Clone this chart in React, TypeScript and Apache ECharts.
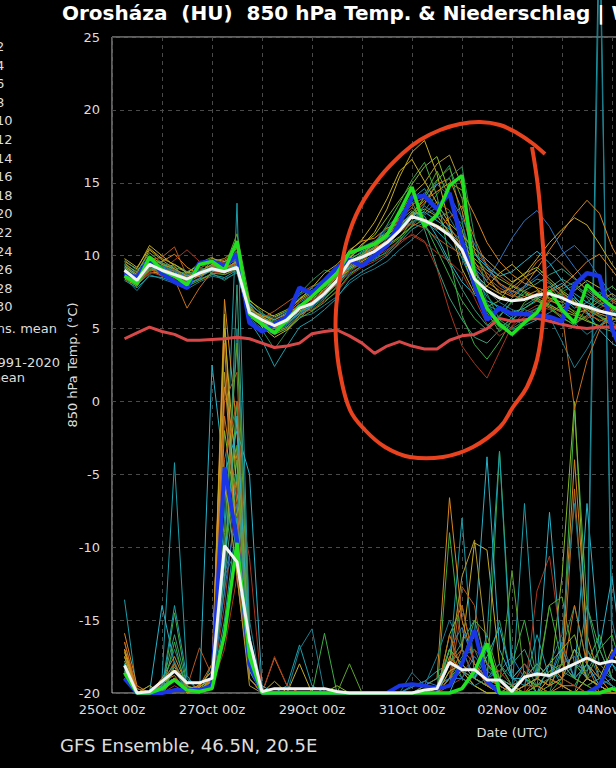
import React, { useEffect, useRef } from 'react';
import * as echarts from 'echarts';

// forecast hours after 25Oct 00z (6-hourly)
const hours = [6, 12, 18, 24, 30, 36, 42, 48, 54, 60, 66, 72, 78, 84, 90, 96, 102, 108, 114, 120, 126, 132, 138, 144, 150, 156, 162, 168, 174, 180, 186, 192, 198, 204, 210, 216, 222, 228, 234, 240, 246];
const dateLabels = ['25Oct 00z', '27Oct 00z', '29Oct 00z', '31Oct 00z', '02Nov 00z', '04Nov 00z', '06Nov 00z', '08Nov 00z', '10Nov 00z'];
const legendMembers = ['2', '4', '6', '8', '10', '12', '14', '16', '18', '20', '22', '24', '26', '28', '30'];

const climate = [4.3, 4.7, 5.1, 4.8, 4.6, 4.2, 4.2, 4.25, 4.3, 4.4, 4.3, 4.0, 3.7, 3.8, 4.0, 4.65, 4.8, 4.9, 4.5, 4.0, 3.3, 3.8, 4.1, 3.8, 3.6, 3.6, 4.2, 4.5, 4.6, 5.0, 5.7, 5.5, 5.6, 5.7, 5.5, 5.3, 5.1, 5.0, 5.1, 5.1, 5.0];
const ensMean = [9.0, 8.3, 9.4, 9.0, 8.7, 8.4, 8.8, 9.1, 8.9, 9.2, 6.1, 5.6, 5.2, 5.6, 6.4, 6.7, 7.4, 8.3, 9.6, 9.9, 10.3, 10.9, 11.7, 12.7, 12.4, 12.0, 11.4, 10.4, 8.4, 7.6, 7.1, 6.9, 7.0, 7.3, 7.4, 7.1, 6.7, 6.5, 6.2, 6.0, 5.8];
const opRun = [8.8, 8.5, 9.8, 8.8, 8.2, 7.8, 9.5, 9.6, 9.3, 10.1, 5.4, 4.8, 5.3, 5.8, 7.8, 7.4, 8.3, 9.2, 9.7, 9.3, 10.0, 10.7, 12.2, 14.0, 14.1, 13.2, 14.3, 11.0, 8.0, 5.6, 6.4, 6.0, 6.0, 5.9, 5.8, 5.5, 8.0, 8.8, 8.6, 5.0, 3.0];
const controlRun = [8.6, 8.1, 9.9, 9.0, 8.6, 8.0, 9.4, 9.6, 9.0, 11.0, 6.0, 5.3, 4.7, 5.6, 6.5, 7.2, 8.0, 8.8, 10.2, 10.5, 10.8, 11.4, 13.0, 14.7, 12.0, 12.8, 14.8, 15.5, 8.5, 6.4, 5.3, 4.6, 5.4, 6.1, 7.6, 6.3, 5.4, 8.0, 7.2, 6.5, 6.0];

const meanPrecip = [1.9, 0, 0.1, 0.8, 1.5, 0.7, 0.7, 1.0, 10.1, 9.0, 3.6, 0.1, 0.3, 0.3, 0.3, 0.3, 0.3, 0.1, 0, 0, 0, 0, 0, 0, 0.2, 0.3, 2.1, 1.6, 1.6, 0.9, 0.9, 0.1, 1.1, 1.3, 1.2, 1.6, 2.0, 2.4, 2.0, 2.2, 2.0];
const opPrecip = [1.0, 0, 0, 0, 0.2, 0.2, 0.2, 0.5, 15.5, 10.5, 2.0, 0, 0, 0, 0, 0, 0, 0, 0, 0, 0, 0, 0.5, 0.6, 0.5, 0.3, 0.5, 2.0, 4.3, 0.8, 0, 0, 0, 0, 0, 0, 0, 0, 0.5, 2.5, 4.0];
const controlPrecip = [1.4, 0, 0, 0.3, 0.9, 0.2, 0.1, 0.3, 4.0, 10.3, 2.5, 0, 0, 0, 0, 0, 0, 0, 0, 0, 0, 0, 0, 0, 0, 0, 0, 0.3, 1.5, 3.4, 0, 0, 0, 0, 0, 0, 0, 0, 0, 0.3, 0];

// member 850 hPa temperatures
const tM01 = [9.2, 8.6, 9.6, 9.3, 8.9, 8.2, 8.9, 9.4, 9.1, 9.6, 6.5, 5.4, 4.8, 5.2, 6.1, 6.9, 7.6, 8.9, 10.1, 10.4, 10.9, 11.8, 12.6, 13.9, 14.6, 13.2, 11.9, 9.8, 7.9, 6.6, 6.2, 7.1, 7.8, 8.4, 8.1, 7.2, 6.4, 6.8, 7.5, 6.9, 6.2];
const tM02 = [8.7, 8.0, 9.1, 8.8, 8.5, 8.7, 9.2, 8.8, 8.3, 8.9, 5.6, 4.9, 3.6, 4.8, 5.9, 6.4, 7.1, 7.8, 9.0, 9.5, 9.8, 10.2, 11.0, 12.1, 13.5, 15.1, 16.2, 12.4, 8.1, 5.9, 5.1, 5.6, 6.3, 6.0, 6.8, 7.7, 8.2, 7.1, 5.9, 5.4, 5.0];
const tM03 = [9.4, 8.9, 10.2, 9.5, 9.0, 8.7, 9.1, 9.7, 9.4, 10.3, 6.8, 5.9, 5.5, 5.8, 6.6, 6.2, 7.0, 7.9, 9.4, 10.1, 10.6, 11.3, 12.4, 13.1, 12.2, 10.4, 8.6, 6.9, 5.7, 4.9, 5.8, 6.9, 7.4, 7.0, 6.5, 5.8, 5.2, 6.4, 7.3, 7.9, 7.1];
const tM04 = [8.9, 8.2, 9.0, 9.1, 9.4, 8.9, 8.6, 9.0, 8.8, 9.4, 6.2, 5.8, 5.9, 6.3, 7.0, 7.5, 8.1, 8.7, 9.9, 10.8, 11.4, 12.6, 13.8, 14.9, 16.1, 16.8, 14.3, 10.2, 7.6, 6.5, 6.9, 8.1, 8.8, 9.2, 8.4, 7.6, 7.0, 6.1, 5.5, 5.9, 6.4];
const tM05 = [9.6, 9.1, 10.7, 10.0, 9.3, 8.1, 8.4, 9.3, 9.6, 9.9, 6.4, 5.1, 4.4, 4.9, 5.7, 6.6, 7.8, 8.6, 9.8, 10.7, 11.6, 13.2, 15.4, 17.1, 17.9, 15.6, 12.1, 9.1, 7.4, 7.9, 8.8, 9.4, 8.6, 7.7, 7.1, 6.8, 7.6, 8.3, 7.8, 7.0, 6.5];
const tM06 = [8.4, 7.9, 9.3, 9.6, 10.1, 9.2, 8.7, 9.1, 9.3, 9.1, 5.9, 5.3, 5.0, 5.6, 6.3, 7.1, 8.0, 9.0, 10.4, 11.0, 11.2, 11.9, 12.2, 12.8, 13.6, 14.9, 15.3, 13.1, 9.6, 8.2, 7.6, 7.2, 7.9, 9.1, 10.4, 11.6, 12.8, 13.8, 12.9, 10.6, 9.1];
const tM07 = [9.1, 8.4, 9.7, 9.9, 10.6, 8.6, 8.3, 8.7, 9.0, 9.5, 6.0, 5.7, 6.2, 6.8, 7.4, 7.9, 8.2, 8.5, 9.2, 9.6, 10.4, 11.1, 11.7, 12.3, 12.9, 13.7, 13.1, 11.6, 10.2, 9.4, 8.6, 8.0, 7.6, 7.2, 6.9, 6.6, 6.2, 5.7, 6.1, 6.7, 7.2];
const tM08 = [8.8, 8.5, 9.2, 9.0, 9.7, 10.4, 9.6, 8.9, 8.7, 9.0, 5.8, 5.2, 4.9, 5.4, 6.0, 6.3, 6.9, 7.5, 8.6, 9.2, 9.6, 10.1, 10.8, 11.5, 11.0, 9.1, 6.2, 3.8, 2.6, 1.6, 3.4, 5.2, 6.1, 6.6, 6.3, 5.9, 5.5, 5.8, 6.4, 6.9, 7.3];
const tM09 = [8.6, 8.1, 8.9, 8.7, 8.3, 7.9, 8.5, 9.0, 9.2, 9.8, 6.3, 5.5, 5.1, 5.5, 6.8, 7.3, 7.7, 8.0, 8.8, 9.3, 10.0, 10.8, 11.9, 12.6, 13.4, 12.8, 11.5, 10.3, 9.1, 8.3, 9.7, 11.2, 12.4, 13.1, 12.0, 10.4, 9.2, 8.1, 7.3, 6.6, 5.9];
const tM10 = [9.3, 8.7, 9.5, 9.2, 8.8, 8.5, 8.9, 9.2, 9.5, 10.0, 6.7, 6.0, 5.6, 6.1, 7.1, 7.6, 8.3, 8.9, 9.7, 10.3, 10.7, 11.2, 12.0, 13.0, 12.7, 11.3, 9.6, 8.2, 7.3, 6.9, 6.5, 6.1, 6.4, 7.0, 7.6, 8.1, 7.4, 6.8, 6.3, 5.8, 5.3];
const tM11 = [8.5, 7.6, 8.7, 8.4, 8.1, 7.7, 8.2, 8.6, 8.4, 8.8, 5.7, 5.0, 4.6, 5.0, 5.8, 6.0, 6.6, 7.2, 8.1, 8.7, 9.1, 9.6, 10.4, 11.1, 11.9, 12.6, 13.0, 12.2, 9.4, 6.8, 5.4, 4.9, 5.3, 6.2, 6.7, 6.1, 5.4, 4.6, 5.2, 5.9, 6.3];
const tM12 = [9.0, 8.3, 9.8, 9.4, 8.9, 8.8, 9.5, 9.9, 9.2, 11.5, 7.0, 6.1, 5.3, 5.7, 6.5, 6.8, 7.2, 8.1, 9.5, 9.8, 10.2, 10.6, 11.2, 12.4, 14.1, 15.8, 14.0, 11.8, 8.7, 6.1, 4.8, 5.5, 6.8, 7.4, 7.9, 6.9, 6.1, 5.6, 5.1, 4.8, 5.4];
const tM13 = [9.5, 8.8, 10.4, 9.7, 9.1, 8.4, 8.8, 9.6, 9.8, 10.5, 6.6, 5.6, 4.7, 5.1, 5.9, 6.5, 7.5, 8.4, 9.9, 10.5, 11.0, 11.6, 12.8, 14.2, 15.0, 16.3, 16.9, 14.8, 10.3, 8.6, 7.4, 6.9, 7.2, 7.6, 7.0, 6.5, 6.0, 6.3, 6.9, 7.4, 6.8];
const tM14 = [8.9, 8.3, 9.1, 8.6, 8.4, 6.4, 7.8, 8.9, 9.0, 9.7, 6.1, 5.5, 5.2, 5.9, 6.9, 7.4, 7.9, 8.6, 9.6, 10.0, 10.5, 11.4, 12.5, 13.3, 12.5, 11.8, 12.6, 13.4, 11.2, 9.3, 8.1, 7.5, 8.4, 9.6, 10.2, 9.4, 8.5, 7.6, 6.9, 6.3, 5.8];
const tM15 = [9.7, 9.0, 9.9, 9.5, 9.2, 8.9, 9.3, 9.5, 9.1, 9.6, 6.4, 5.8, 5.4, 5.8, 6.2, 6.5, 7.3, 8.2, 9.3, 9.9, 10.6, 11.5, 12.9, 13.7, 11.8, 9.2, 7.1, 5.6, 4.4, 4.0, 4.9, 5.8, 6.6, 7.1, 7.8, 8.4, 7.9, 7.2, 6.7, 6.2, 5.7];
const tM16 = [8.3, 7.8, 8.6, 8.5, 8.2, 8.0, 8.4, 8.7, 8.5, 9.0, 5.5, 4.2, 2.4, 3.8, 5.1, 5.6, 6.3, 7.1, 8.3, 8.9, 9.4, 10.0, 10.9, 11.8, 12.3, 11.7, 10.8, 9.9, 8.6, 7.2, 6.3, 5.7, 5.2, 5.6, 6.1, 6.6, 7.1, 6.5, 5.8, 5.2, 4.7];
const tM17 = [9.1, 8.5, 9.3, 9.0, 8.7, 8.6, 9.0, 9.3, 9.0, 9.4, 6.2, 5.7, 5.4, 6.0, 7.4, 8.3, 9.0, 8.8, 9.1, 9.4, 9.7, 10.3, 11.1, 12.0, 13.1, 14.2, 15.4, 16.1, 11.3, 7.4, 5.6, 5.0, 5.5, 6.3, 6.9, 7.5, 8.0, 7.4, 6.8, 6.1, 5.6];
const tM18 = [8.8, 8.2, 9.0, 9.3, 8.6, 8.1, 8.7, 9.1, 9.3, 9.9, 6.0, 5.4, 5.0, 5.4, 6.0, 6.6, 7.5, 8.6, 9.8, 10.2, 10.8, 12.1, 13.6, 15.2, 16.4, 14.1, 9.8, 5.9, 3.9, 2.9, 4.1, 5.6, 6.4, 6.9, 6.4, 5.7, 5.3, 5.9, 6.6, 7.1, 6.7];
const tM19 = [9.2, 8.6, 9.4, 9.1, 8.8, 8.5, 8.6, 9.0, 8.9, 9.3, 6.1, 5.6, 5.1, 5.5, 6.2, 6.7, 7.4, 8.0, 9.1, 9.6, 10.1, 10.7, 11.3, 12.0, 12.5, 12.1, 11.6, 10.7, 9.8, 9.0, 8.4, 7.9, 7.5, 7.1, 6.6, 6.2, 5.9, 5.5, 5.2, 5.6, 6.0];
const tM20 = [9.8, 9.2, 10.5, 9.8, 9.4, 8.8, 9.4, 9.8, 9.6, 10.1, 6.9, 6.3, 5.8, 6.2, 7.0, 7.8, 8.8, 9.4, 10.3, 11.1, 12.3, 13.9, 15.8, 16.6, 15.1, 13.6, 12.2, 11.4, 10.5, 9.7, 8.9, 8.2, 8.7, 9.8, 10.9, 11.8, 12.6, 12.1, 10.8, 9.4, 8.3];
const tM21 = [8.6, 8.0, 8.8, 8.9, 9.0, 8.3, 8.6, 9.2, 9.4, 9.2, 6.3, 5.9, 5.6, 6.0, 6.6, 7.0, 7.7, 8.5, 9.6, 10.1, 10.5, 11.0, 11.8, 12.9, 13.8, 14.4, 15.0, 14.5, 12.8, 10.9, 9.6, 8.7, 8.1, 7.8, 7.5, 7.9, 8.7, 9.6, 10.1, 9.0, 7.9];
const tM22 = [9.0, 8.4, 9.1, 8.8, 8.5, 8.2, 8.9, 9.4, 9.7, 10.2, 6.5, 5.7, 5.0, 5.3, 6.1, 6.9, 7.6, 8.3, 9.2, 9.7, 10.3, 10.9, 11.6, 12.2, 11.9, 11.2, 10.6, 10.1, 9.3, 8.5, 7.8, 7.3, 7.0, 7.4, 7.9, 7.3, 6.6, 6.0, 5.6, 5.3, 5.0];
const tM23 = [8.7, 8.1, 8.9, 8.6, 8.4, 8.5, 9.1, 9.6, 9.5, 9.7, 6.1, 5.4, 5.1, 5.5, 6.4, 6.9, 7.4, 8.0, 8.9, 9.5, 9.9, 10.4, 11.0, 11.4, 10.9, 10.2, 9.6, 8.8, 7.1, 5.3, 4.5, 5.1, 5.8, 6.4, 6.9, 7.3, 6.8, 6.2, 5.9, 6.3, 6.7];
const tM24 = [9.1, 8.4, 9.5, 9.2, 8.9, 8.6, 8.8, 9.1, 9.0, 9.4, 6.0, 5.3, 4.8, 5.3, 6.0, 6.5, 7.2, 8.3, 9.4, 10.0, 10.9, 12.0, 12.8, 13.6, 14.3, 14.9, 14.1, 12.6, 10.8, 9.2, 8.0, 7.4, 7.9, 8.6, 9.3, 10.1, 10.7, 9.8, 8.5, 7.3, 6.5];
const tM25 = [8.9, 8.3, 9.3, 9.0, 8.6, 8.3, 8.7, 9.0, 8.9, 9.3, 5.9, 5.4, 5.0, 5.4, 6.1, 6.6, 7.3, 8.1, 9.2, 9.8, 10.3, 11.0, 11.9, 12.8, 13.0, 12.4, 11.8, 11.0, 10.1, 9.2, 8.6, 8.9, 9.6, 10.3, 9.5, 8.3, 7.2, 6.1, 4.9, 4.0, 3.4];
const tM26 = [9.4, 8.7, 9.6, 9.3, 9.0, 8.7, 9.0, 9.3, 9.2, 9.8, 6.6, 6.0, 5.7, 6.2, 7.3, 7.8, 8.4, 9.2, 10.2, 10.6, 11.0, 11.5, 11.9, 12.3, 12.8, 13.3, 12.6, 11.1, 9.0, 7.6, 6.8, 6.3, 6.0, 6.4, 5.8, 4.1, 2.3, 3.6, 5.2, 6.0, 6.6];
const tM27 = [8.5, 7.9, 9.2, 8.8, 8.3, 7.9, 8.3, 8.8, 8.7, 9.1, 5.8, 5.2, 4.6, 5.0, 5.7, 6.2, 6.8, 7.6, 8.7, 9.3, 9.8, 10.6, 11.7, 12.9, 14.0, 15.2, 16.0, 13.9, 9.2, 6.3, 5.1, 4.7, 5.4, 6.1, 6.8, 7.4, 6.9, 6.3, 5.8, 5.4, 5.8];
const tM28 = [9.3, 8.7, 10.0, 9.4, 9.1, 8.6, 8.9, 9.4, 9.1, 9.6, 6.4, 5.8, 5.3, 5.7, 6.5, 7.2, 8.0, 8.7, 9.5, 10.1, 10.8, 11.4, 12.1, 12.8, 13.2, 12.7, 11.6, 10.2, 8.8, 7.9, 7.4, 7.8, 8.5, 9.0, 8.2, 7.5, 6.8, 6.4, 6.0, 5.7, 5.5];
const tM29 = [8.8, 8.2, 9.4, 9.1, 8.7, 8.4, 8.6, 9.3, 9.2, 9.5, 6.1, 5.5, 5.1, 5.6, 6.3, 6.8, 7.5, 8.2, 9.3, 9.9, 10.6, 11.5, 12.6, 13.5, 14.0, 13.1, 12.0, 10.6, 9.5, 8.8, 8.1, 7.6, 7.2, 6.9, 6.5, 6.1, -0.5, 2.8, 4.9, 6.3, 7.0];
const tM30 = [9.0, 8.5, 9.2, 8.9, 8.6, 8.3, 8.9, 9.2, 9.0, 9.4, 6.2, 5.6, 5.3, 5.7, 6.4, 6.8, 7.5, 8.4, 9.6, 10.1, 10.6, 11.2, 12.0, 12.7, 12.1, 11.0, 9.4, 7.7, 6.3, 5.2, 5.9, 6.8, 7.6, 8.1, 8.7, 9.1, 8.4, 7.7, 7.1, 6.6, 6.1];

// member 6-hourly precipitation
const pM01 = [6.4, 0, 0, 1.0, 15.8, 1.2, 0, 2.0, 12.0, 33.6, 4.0, 0, 0, 0.5, 3.3, 0.5, 0, 0, 0, 0, 0, 0, 0, 0.4, 0.8, 1.5, 2.0, 12.0, 1.0, 3.0, 0.5, 0, 13.0, 1.0, 2.0, 0.5, 0, 3.0, 55, 2.0, 0.5];
const pM02 = [2.0, 0, 0, 0.5, 1.0, 0.3, 0, 0.8, 14.0, 20.0, 2.5, 0, 0, 0, 0, 0, 0, 0, 0, 0, 0, 0, 0, 0, 0, 0.5, 3.0, 2.0, 4.0, 1.5, 5.0, 1.0, 2.0, 0.5, 0, 3.0, 6.0, 2.0, 1.0, 0.5, 0];
const pM03 = [1.5, 0, 0.5, 0, 5.5, 0.5, 0, 0.5, 9.0, 16.0, 1.0, 0, 0, 0, 0, 0, 4.1, 0, 0, 0, 0, 0, 0, 0, 0, 0, 11.0, 3.0, 1.0, 0.5, 16.6, 2.0, 5.0, 1.0, 6.0, 2.0, 19.4, 6.0, 3.0, 4.0, 1.0];
const pM04 = [2.5, 0, 0, 0, 2.0, 0.5, 0.2, 1.0, 18.0, 12.0, 1.0, 0, 0, 0, 0, 0, 0, 0.5, 0, 0, 0, 0, 0, 0, 0, 0, 4.0, 6.0, 2.0, 1.0, 0.5, 0, 1.5, 0, 0.5, 8.0, 20.0, 3.0, 1.5, 0.5, 0];
const pM05 = [3.0, 0.3, 0, 0.5, 1.0, 0, 0.6, 1.5, 25.0, 14.0, 3.0, 0, 0.8, 0, 2.0, 0, 0, 0, 0, 0, 0, 0, 0, 0, 0, 0.3, 2.0, 3.0, 10.3, 9.8, 2.0, 0.5, 0, 0, 1.0, 2.0, 1.0, 0.5, 1.0, 3.0, 1.0];
const pM06 = [4.1, 0.5, 0, 1.0, 2.5, 0.5, 0, 1.0, 27.0, 18.0, 2.0, 0, 2.4, 0.5, 0, 0, 0, 0, 0, 0, 0, 0, 0, 0, 0.5, 1.0, 13.4, 5.0, 2.0, 0.5, 0, 0, 0.5, 1.0, 0.5, 2.0, 16.0, 4.0, 1.0, 0, 0];
const pM07 = [3.5, 0.3, 0, 0.6, 1.5, 0.4, 3.1, 1.2, 20.0, 22.0, 1.5, 0, 0, 0, 0, 0, 0, 0, 0, 0, 0, 0, 0, 0, 0, 0, 1.0, 7.3, 6.0, 1.0, 0.5, 0, 0, 0.5, 1.0, 0.5, 0, 1.0, 0.5, 0, 0];
const pM08 = [1.0, 0, 0, 0.5, 0.8, 0, 0, 0.5, 6.0, 14.0, 9.3, 0, 2.5, 0.5, 0, 0, 0, 0, 0, 0, 0, 0, 0, 0, 0, 0, 2.0, 3.0, 1.0, 0.5, 0, 0, 0, 7.0, 9.4, 3.0, 1.0, 0.5, 0, 0, 0];
const pM09 = [2.0, 0, 0, 0.3, 1.0, 0.5, 0, 0.5, 8.0, 12.0, 2.0, 0, 0, 0, 0, 0, 0, 0, 0, 0, 0, 0, 0, 0.5, 0.8, 0.5, 3.0, 4.5, 2.0, 1.0, 1.5, 2.5, 1.0, 2.0, 1.0, 3.5, 1.0, 2.0, 0.5, 1.0, 0.5];
const pM10 = [1.5, 0, 0, 6.0, 2.0, 0.5, 0, 22.5, 15.0, 18.0, 15.0, 0.5, 0, 0, 0, 0, 0, 0, 0, 0, 0, 0, 0, 0, 0, 0, 3.0, 2.0, 4.0, 16.2, 3.0, 1.0, 2.0, 1.0, 12.4, 2.0, 1.0, 13.0, 3.0, 8.0, 1.0];
const pM11 = [2.0, 0, 0, 0.5, 3.0, 0.5, 0, 1.0, 10.0, 25.0, 5.0, 0, 0, 0, 3.0, 4.4, 0, 0, 0, 0, 0, 0, 0, 1.4, 0.5, 2.5, 5.0, 3.0, 1.0, 2.0, 0.5, 0, 1.0, 0.5, 1.5, 1.0, 2.0, 1.0, 52, 5.0, 1.0];
const pM12 = [1.2, 0, 0, 0, 1.0, 0, 0.5, 0.8, 11.0, 24.0, 3.0, 0, 0, 0, 0, 0, 0, 0, 2.0, 0, 0, 0, 0, 0, 0, 0.5, 3.0, 2.0, 1.0, 0.5, 0.5, 8.4, 1.0, 0.5, 6.0, 6.6, 2.0, 1.0, 3.0, 1.0, 0.5];
const pM13 = [3.0, 0, 0.5, 0, 1.8, 0.3, 0, 1.0, 22.0, 10.0, 1.0, 0, 0, 0, 0, 0, 0, 0, 0, 0, 0, 0, 0, 0, 0, 0, 2.0, 8.0, 10.5, 3.0, 1.0, 0.5, 0, 0, 1.0, 0.5, 0, 1.0, 0.5, 0, 0];
const pM14 = [2.5, 0, 0, 0.8, 1.2, 0, 0.5, 2.0, 24.0, 8.0, 1.0, 0, 0, 0, 0, 0, 0, 0, 0, 0, 0, 0, 0, 0, 0, 0, 4.0, 1.5, 0.5, 0, 0, 0.5, 1.0, 2.0, 1.0, 0.5, 14.0, 2.0, 0, 0, 0];
const pM15 = [2.0, 0, 0, 0.5, 4.0, 0.5, 0, 0.5, 7.0, 28.0, 3.0, 0, 0, 0, 0, 0, 0, 0, 0, 0, 0, 0, 0, 0, 0.5, 1.0, 2.0, 3.5, 5.0, 2.0, 1.0, 2.0, 3.0, 1.0, 2.0, 1.5, 1.0, 6.0, 2.0, 1.0, 0.5];
const pM16 = [1.0, 0, 0, 0.3, 6.0, 1.0, 0, 0.5, 5.0, 12.0, 1.0, 0, 0, 0, 0, 0, 0, 0, 0, 0, 0, 0, 0, 0, 0, 0.5, 1.0, 2.0, 1.0, 4.0, 16.6, 1.0, 0.5, 4.0, 1.0, 3.0, 1.0, 2.0, 1.0, 0.5, 0];
const pM17 = [1.8, 0, 0, 0, 2.0, 0.4, 0, 1.0, 10.0, 15.0, 2.0, 0, 0, 0, 0, 0, 0, 0, 0, 0, 0, 0, 0, 0, 0, 0, 1.0, 2.5, 3.0, 1.0, 2.0, 0.5, 1.0, 0.5, 1.0, 2.0, 1.0, 0.5, 1.0, 0.5, 0];
const pM18 = [1.0, 0, 0, 0, 3.5, 0, 0, 0.3, 9.0, 20.0, 2.0, 0, 0, 0, 0, 0, 0, 0, 0, 0, 0, 0, 0, 0, 0, 0, 3.0, 1.0, 0.5, 0, 0, 0.5, 1.0, 0.5, 0, 1.0, 0.5, 2.0, 4.0, 1.0, 0.5];
const pM19 = [2.2, 0, 0, 0.5, 1.5, 0.5, 0, 0.5, 14.0, 11.0, 1.0, 0, 0, 0, 0, 0, 0, 0, 0, 0, 0, 0, 0, 0, 0, 0, 1.5, 2.0, 4.0, 2.0, 1.0, 0, 0.5, 1.0, 2.0, 3.0, 4.0, 1.0, 0.5, 0, 0];
const pM20 = [2.8, 0, 0, 0.3, 1.0, 0, 0.4, 1.0, 26.0, 9.0, 1.0, 0, 0, 0, 0, 0, 0, 0, 0, 0, 0, 0, 0, 0, 0, 0, 1.0, 1.5, 0.5, 0, 0, 0, 0, 0, 0, 0, 0, 1.0, 0.5, 0, 0];
const pM21 = [3.0, 0, 0, 0.5, 1.0, 0.3, 0.5, 1.5, 21.0, 16.0, 2.0, 0, 0, 0, 0, 0, 0, 0, 0, 0, 0, 0, 0, 0, 0, 0, 2.5, 1.5, 1.0, 0.5, 0, 0, 0, 0.5, 0, 0.5, 0.5, 0, 0, 0, 0];
const pM22 = [1.5, 0, 0, 0.5, 1.0, 0, 0, 0.5, 16.0, 20.0, 1.0, 0, 0, 0, 0, 0, 0, 0, 0, 0, 0, 0, 0, 0, 0, 0, 0.5, 6.0, 2.0, 0.5, 0, 0, 0.5, 0.5, 0, 0, 0, 0, 0, 0, 0];
const pM23 = [1.0, 0, 0, 0, 0.5, 0, 0, 0.5, 3.0, 8.0, 1.0, 0, 0, 0, 0, 0, 0, 0, 0, 0, 0, 0, 0, 0, 0, 0, 0.5, 1.0, 3.0, 2.0, 1.5, 0.5, 2.0, 1.0, 0.5, 1.0, 0.5, 0, 0, 0, 0];
const pM24 = [1.5, 0, 0, 0.3, 1.0, 0.4, 0, 0.5, 7.0, 13.0, 1.5, 0, 0, 0, 0, 0, 0, 0, 0, 0, 0, 0, 0, 0, 0, 0.5, 1.0, 1.0, 2.5, 1.5, 1.0, 0.5, 1.0, 1.5, 1.0, 2.0, 2.5, 1.0, 1.5, 1.0, 0.5];
const pM25 = [2.0, 0, 0, 0.5, 1.0, 0, 0, 1.0, 9.0, 19.0, 2.0, 0, 0, 0, 0, 0, 0, 0, 0, 0, 0, 0, 0, 0, 0, 0, 0, 2.0, 1.0, 2.5, 4.5, 1.0, 1.0, 0, 2.0, 1.0, 3.0, 2.0, 0.5, 2.0, 1.0];
const pM26 = [1.8, 0, 0, 0.4, 2.2, 0, 0, 0.6, 8.0, 10.0, 1.0, 0, 0, 0, 0, 0, 0, 0, 0, 0, 0, 0, 0, 0, 0, 0, 2.0, 1.0, 0.5, 1.0, 2.0, 1.0, 0.5, 1.0, 2.0, 4.0, 13.0, 3.0, 1.0, 0.5, 0];
const pM27 = [1.0, 0, 0, 0.3, 1.0, 0, 0, 0.5, 10.0, 17.0, 1.0, 0, 0, 0, 0, 0, 0, 0, 0, 0, 0, 0, 0, 0, 0, 0, 1.0, 2.0, 5.0, 4.0, 1.0, 0.5, 0, 0.5, 1.5, 2.0, 1.0, 0.5, 0, 0, 0];
const pM28 = [2.5, 0, 0, 0, 1.0, 0, 0.3, 0.8, 15.0, 8.0, 0.5, 0, 0, 0, 0, 0, 0, 0, 0, 0, 0, 0, 0, 0, 0, 0, 1.5, 2.0, 1.0, 0.5, 0, 0, 0.5, 1.0, 0.5, 1.0, 3.0, 1.0, 0.5, 0, 0];
const pM29 = [3.5, 0, 0, 0.8, 2.0, 0.3, 0, 1.0, 19.0, 13.0, 1.0, 0, 0, 0, 0, 0, 0, 0, 0, 0, 0, 0, 0, 0, 0, 0, 1.0, 3.0, 2.0, 1.0, 0.5, 0, 0, 1.0, 2.0, 1.0, 6.0, 2.0, 1.0, 0, 0];
const pM30 = [1.6, 0, 0, 0.2, 1.5, 0.2, 0, 0.6, 8.0, 15.0, 1.5, 0, 0, 0, 0, 0, 0, 0, 0, 0, 0, 0, 0, 0, 0, 0, 2.0, 1.5, 1.0, 0.5, 1.0, 0.5, 1.0, 2.0, 1.0, 1.5, 2.0, 1.5, 3.0, 1.0, 0.5];

const memberTemps = [tM01, tM02, tM03, tM04, tM05, tM06, tM07, tM08, tM09, tM10, tM11, tM12, tM13, tM14, tM15, tM16, tM17, tM18, tM19, tM20, tM21, tM22, tM23, tM24, tM25, tM26, tM27, tM28, tM29, tM30];
const memberPrecips = [pM01, pM02, pM03, pM04, pM05, pM06, pM07, pM08, pM09, pM10, pM11, pM12, pM13, pM14, pM15, pM16, pM17, pM18, pM19, pM20, pM21, pM22, pM23, pM24, pM25, pM26, pM27, pM28, pM29, pM30];

const palette = ['#1b9eaa', '#2a8f5a', '#3cae44', '#86b82a', '#c4ac24', '#d9861e', '#b8561e', '#a8361e', '#2f74c0', '#27b2c9', '#1f7d8e', '#5ca42c', '#b09a30', '#c8701e', '#3c9c7c'];

const FONT = 'DejaVu Sans';

const toPairs = (arr: number[]) => hours.map((h, i) => [h, arr[i]]);

export default function App() {
  const ref = useRef<HTMLDivElement>(null);
  useEffect(() => {
    if (!ref.current) return;
    const chart = echarts.init(ref.current, undefined, { renderer: 'svg' });

    const series: any[] = [];
    memberPrecips.forEach((p, i) => {
      series.push({
        type: 'line', yAxisIndex: 1, data: toPairs(p), showSymbol: false, symbol: 'none', silent: true, clip: false,
        lineStyle: { width: 1, color: palette[i % palette.length] }, z: 2,
      });
    });
    memberTemps.forEach((t, i) => {
      series.push({
        type: 'line', yAxisIndex: 0, data: toPairs(t), showSymbol: false, symbol: 'none', silent: true,
        lineStyle: { width: 1, color: palette[i % palette.length] }, z: 3,
      });
    });
    series.push({ type: 'line', yAxisIndex: 0, data: toPairs(climate), symbol: 'none', silent: true, lineStyle: { width: 3, color: '#d94848' }, z: 4 });
    series.push({ type: 'line', yAxisIndex: 1, data: toPairs(opPrecip), symbol: 'none', silent: true, clip: false, lineStyle: { width: 4, color: '#1a35e6' }, z: 5 });
    series.push({ type: 'line', yAxisIndex: 1, data: toPairs(controlPrecip), symbol: 'none', silent: true, clip: false, lineStyle: { width: 3.5, color: '#22e022' }, z: 5 });
    series.push({ type: 'line', yAxisIndex: 1, data: toPairs(meanPrecip), symbol: 'none', silent: true, clip: false, lineStyle: { width: 3, color: '#f2f2f2' }, z: 6 });
    series.push({ type: 'line', yAxisIndex: 0, data: toPairs(opRun), symbol: 'none', silent: true, lineStyle: { width: 4.5, color: '#1a35e6' }, z: 5 });
    series.push({ type: 'line', yAxisIndex: 0, data: toPairs(controlRun), symbol: 'none', silent: true, lineStyle: { width: 3.5, color: '#22e022' }, z: 5 });
    series.push({ type: 'line', yAxisIndex: 0, data: toPairs(ensMean), symbol: 'none', silent: true, lineStyle: { width: 3, color: '#f2f2f2' }, z: 6 });

    const legendTexts: any[] = legendMembers.map((m, k) => ({
      type: 'text', x: -4, y: 46.5 + 18.6 * k,
      style: { text: m, fill: '#dddddd', font: `13px "${FONT}"`, textAlign: 'left', textVerticalAlign: 'middle' },
    }));
    legendTexts.push({ type: 'text', x: 57, y: 328, style: { text: 'Ens. mean', fill: '#dddddd', font: `13px "${FONT}"`, textAlign: 'right', textVerticalAlign: 'middle' } });
    legendTexts.push({ type: 'text', x: 60, y: 362, style: { text: '1991-2020', fill: '#dddddd', font: `13px "${FONT}"`, textAlign: 'right', textVerticalAlign: 'middle' } });
    legendTexts.push({ type: 'text', x: 25, y: 377, style: { text: 'mean', fill: '#dddddd', font: `13px "${FONT}"`, textAlign: 'right', textVerticalAlign: 'middle' } });

    const loop = [[545, 154], [532, 143], [517, 133], [500, 125], [480, 122], [460, 124], [440, 130], [420, 140], [403, 153], [380, 177], [360, 207], [347, 240], [340, 277], [336, 310], [336, 340], [340, 373], [350, 410], [365, 430], [385, 447], [410, 457], [443, 457], [473, 447], [500, 427], [513, 407], [527, 387], [537, 360], [543, 320], [545, 283], [542, 233], [538, 187], [532, 147]];

    chart.setOption({
      animation: false,
      backgroundColor: '#000000',
      title: {
        text: 'Orosháza  (HU)  850 hPa Temp. & Niederschlag | Wetterzentrale',
        left: 62, top: 3, padding: 0,
        textStyle: { color: '#ffffff', fontSize: 20, fontWeight: 'bold', fontFamily: FONT },
      },
      grid: {
        left: 112, top: 37, width: 800, height: 656, show: true, borderColor: '#bdbdbd', borderWidth: 1,
        backgroundColor: 'transparent', containLabel: false, outerBoundsMode: 'none',
      },
      xAxis: {
        type: 'value', min: 0, max: 384, interval: 24,
        name: 'Date (UTC)', nameLocation: 'middle', nameGap: 33,
        nameTextStyle: { color: '#dddddd', fontSize: 13, fontFamily: FONT },
        axisLine: { show: false }, axisTick: { show: false },
        axisLabel: {
          color: '#dddddd', fontSize: 13, fontFamily: FONT, margin: 10,
          formatter: (v: number) => (v % 48 === 0 ? dateLabels[v / 48] ?? '' : ''),
        },
        splitLine: { show: true, lineStyle: { color: '#4a4a4a', type: [4, 4], width: 1 } },
      },
      yAxis: [
        {
          type: 'value', min: -20, max: 25, interval: 5,
          name: '850 hPa Temp. (°C)', nameLocation: 'middle', nameGap: 33, nameRotate: 90, nameMoveOverlap: false,
          nameTextStyle: { color: '#dddddd', fontSize: 13, fontFamily: FONT },
          axisLine: { show: false }, axisTick: { show: false },
          axisLabel: { color: '#dddddd', fontSize: 13, fontFamily: FONT, margin: 12 },
          splitLine: { show: true, lineStyle: { color: '#4a4a4a', type: [4, 4], width: 1 } },
        },
        { type: 'value', min: 0, max: 45, show: false, splitLine: { show: false } },
      ],
      series,
      graphic: [
        ...legendTexts,
        { type: 'text', x: 60, y: 745, style: { text: 'GFS Ensemble, 46.5N, 20.5E', fill: '#dddddd', font: `18px "${FONT}"`, textAlign: 'left', textVerticalAlign: 'middle' } },
        { type: 'polyline', z: 100, shape: { points: loop, smooth: 0.4 }, style: { stroke: '#e8421e', lineWidth: 4, fill: 'none' } },
      ],
    });
    return () => chart.dispose();
  }, []);
  return <div ref={ref} style={{ position: 'fixed', left: 0, top: 0, width: 616, height: 768, background: '#000' }} />;
}
